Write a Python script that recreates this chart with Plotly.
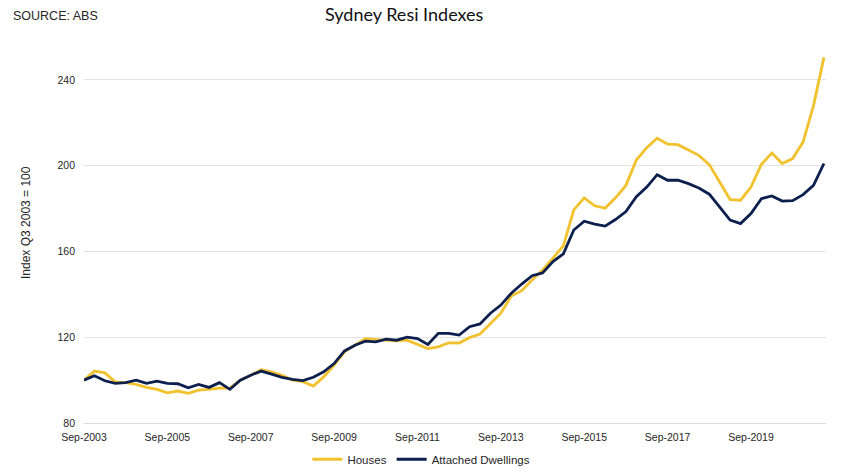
import plotly.graph_objects as go

# Quarter labels Sep-2003 .. Jun-2021
months = ["Sep", "Dec", "Mar", "Jun"]
quarters = []
for k in range(72):
    m = months[k % 4]
    yr = 2003 + (k + 2) // 4 if k % 4 >= 2 else 2003 + k // 4
    quarters.append(f"{m}-{yr}")

houses = [100, 104.2, 103.4, 99.2, 98.8, 98.0, 96.6, 95.7, 94.1, 94.9,
          93.8, 95.3, 95.7, 96.3, 96.3, 100, 102.3, 104.8, 103.9, 102.3,
          100, 99.3, 97.2, 101.5, 107, 113.2, 116.3, 119.3, 118.9, 118.6,
          118.3, 118.6, 116.6, 114.7, 115.5, 117.4, 117.3, 119.8, 121.5, 126.2,
          131.2, 139.2, 141.7, 146.7, 151.3, 156.9, 162.6, 179.4, 185, 181.3,
          180.2, 185, 190.8, 202.6, 208.4, 212.8, 210, 209.8, 207.4, 204.8,
          200.5, 192.4, 184.2, 183.9, 190, 200.6, 205.9, 201, 203.3, 211,
          228, 250.5]

attached = [100, 102, 99.7, 98.5, 98.8, 100, 98.5, 99.5, 98.5, 98.3,
            96.4, 98, 96.6, 98.8, 95.7, 100, 102.3, 104.2, 102.8, 101.3,
            100.3, 99.8, 101.3, 103.9, 107.7, 113.6, 116.3, 118.2, 117.8, 119.1,
            118.6, 120, 119.4, 116.6, 121.8, 121.8, 121, 124.9, 126.2, 131.2,
            135, 140.5, 144.8, 148.7, 150, 155.3, 158.9, 170, 174.1, 172.7,
            171.8, 174.9, 178.6, 185.5, 190, 195.8, 193.2, 193.2, 191.6, 189.6,
            186.7, 180.7, 174.6, 173, 177.7, 184.6, 185.9, 183.5, 183.7, 186.5,
            190.8, 201]

tick_labels = ["Sep-2003", "Sep-2005", "Sep-2007", "Sep-2009", "Sep-2011",
               "Sep-2013", "Sep-2015", "Sep-2017", "Sep-2019"]
y_ticks = [80, 120, 160, 200, 240]

YELLOW = "#F2C12E"
NAVY = "#0C1F4E"

fig = go.Figure()
fig.add_trace(go.Scatter(x=quarters, y=houses, mode="lines", name="Houses",
                         line=dict(color=YELLOW, width=2.8)))
fig.add_trace(go.Scatter(x=quarters, y=attached, mode="lines", name="Attached Dwellings",
                         line=dict(color=NAVY, width=2.8)))

fig.update_layout(
    width=860, height=472,
    margin=dict(l=84, r=34, t=37, b=49, autoexpand=False),
    paper_bgcolor="white", plot_bgcolor="white",
    font=dict(family="Liberation Sans, Arial", size=10.5, color="#262626"),
    title=dict(text="Sydney Resi Indexes", x=0.47, xanchor="center", xref="container",
               y=0.968, yref="container", yanchor="middle",
               font=dict(family="Lato, Open Sans", size=18, color="#111111")),
    showlegend=True,
    legend=dict(orientation="h", x=0.49, xanchor="center", xref="container",
                y=0.027, yref="container", yanchor="middle",
                font=dict(size=11.5, color="#262626"), itemwidth=30,
                traceorder="normal"),
    annotations=[
        dict(text="SOURCE: ABS", xref="paper", yref="paper", x=-0.099, y=1.0544,
             xanchor="left", yanchor="middle", showarrow=False,
             font=dict(size=12.5, color="#262626")),
        dict(text="Index Q3 2003 = 100", xref="paper", yref="paper",
             x=-0.0782, y=0.5207, xanchor="center", yanchor="middle",
             textangle=-90, showarrow=False, font=dict(size=12, color="#262626")),
    ],
)

fig.update_xaxes(type="category", range=[0, 71.2], tickmode="array",
                 tickvals=tick_labels, ticktext=tick_labels, tickangle=0,
                 showgrid=False, showline=True, linecolor="#D9D9D9", linewidth=1,
                 ticks="", tickfont=dict(size=10.5), ticklabelstandoff=4)
fig.update_yaxes(range=[80, 260], tickmode="array", tickvals=y_ticks,
                 showgrid=True, gridcolor="#E3E3E3", gridwidth=1, zeroline=False,
                 showline=False, ticks="", tickfont=dict(size=10.5), ticklabelstandoff=8)

fig.write_html("out.html")
